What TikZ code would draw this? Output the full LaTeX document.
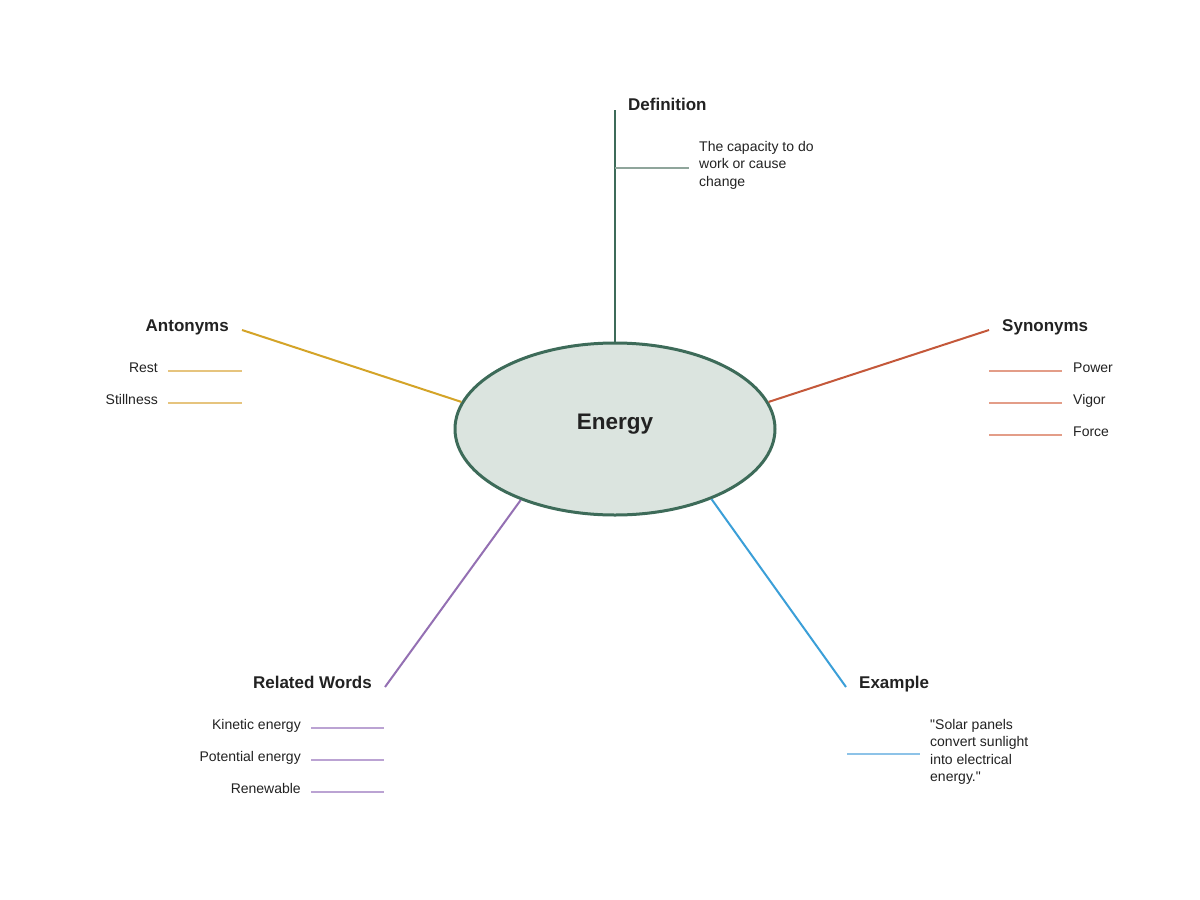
\documentclass[tikz,border=0pt]{standalone}
\usepackage{fontspec}
\setmainfont{Liberation Sans}
\newfontfamily\plainq{Liberation Sans}
\usetikzlibrary{shapes.geometric}
\definecolor{ink}{HTML}{222222}
\definecolor{defc}{HTML}{3D6B59}
\definecolor{ctrfill}{HTML}{DBE4DF}
\definecolor{defsub}{HTML}{8FA59B}
\definecolor{antc}{HTML}{D4A428}
\definecolor{antsub}{HTML}{E6C47E}
\definecolor{sync}{HTML}{C4583A}
\definecolor{synsub}{HTML}{E39D88}
\definecolor{relc}{HTML}{9470B3}
\definecolor{relsub}{HTML}{BBA3D3}
\definecolor{exc}{HTML}{3B9FD8}
\definecolor{exsub}{HTML}{8DC3E8}
\begin{document}
\begin{tikzpicture}[x=1pt,y=-1pt,
  head/.style={font=\fontsize{17}{20}\selectfont\bfseries, text=ink, inner sep=0},
  item/.style={font=\fontsize{14}{17.5}\selectfont, text=ink, inner sep=0},
  conn/.style={line width=2},
  subline/.style={line width=2}]
\useasboundingbox[fill=white] (0,0) rectangle (1200,900);

\node[ellipse, draw=defc, fill=ctrfill, line width=3, minimum width=320, minimum height=172, inner sep=0, text=ink, font=\fontsize{22.5}{27}\selectfont\bfseries] (center) at (615,429) {\raisebox{0pt}[0pt][0pt]{Energy}};

% Definition
\coordinate (defTop) at (615,110);
\coordinate (defJ) at (615,168);
\coordinate (defE) at (689,168);
\draw[conn, defc] (defTop) -- (center.north);
\draw[subline, defsub] (defJ) -- (defE);
\node[head, anchor=base west] (defL) at (628,110) {Definition};
\node[item, anchor=west, align=left] (defT) at (699,165) {The capacity to do\\work or cause\\change};

% Antonyms
\coordinate (antA) at (242,330);
\draw[conn, antc] (antA) -- (center.170);
\node[head, anchor=base east] (antL) at (229,331) {Antonyms};
\coordinate (ant1a) at (168,371); \coordinate (ant1b) at (242,371);
\coordinate (ant2a) at (168,403); \coordinate (ant2b) at (242,403);
\draw[subline, antsub] (ant1a) -- (ant1b);
\draw[subline, antsub] (ant2a) -- (ant2b);
\node[item, anchor=base east] (ant1) at (158,372) {Rest};
\node[item, anchor=base east] (ant2) at (158,404) {Stillness};

% Synonyms
\coordinate (synA) at (989,330);
\draw[conn, sync] (synA) -- (center.10);
\node[head, anchor=base west] (synL) at (1002,331) {Synonyms};
\coordinate (syn1a) at (989,371); \coordinate (syn1b) at (1062,371);
\coordinate (syn2a) at (989,403); \coordinate (syn2b) at (1062,403);
\coordinate (syn3a) at (989,435); \coordinate (syn3b) at (1062,435);
\draw[subline, synsub] (syn1a) -- (syn1b);
\draw[subline, synsub] (syn2a) -- (syn2b);
\draw[subline, synsub] (syn3a) -- (syn3b);
\node[item, anchor=base west] (syn1) at (1073,372) {Power};
\node[item, anchor=base west] (syn2) at (1073,404) {Vigor};
\node[item, anchor=base west] (syn3) at (1073,436) {Force};

% Related Words
\coordinate (relA) at (385,687);
\draw[conn, relc] (relA) -- (center.217);
\node[head, anchor=base east] (relL) at (372,688) {Related Words};
\coordinate (rel1a) at (311,728); \coordinate (rel1b) at (384,728);
\coordinate (rel2a) at (311,760); \coordinate (rel2b) at (384,760);
\coordinate (rel3a) at (311,792); \coordinate (rel3b) at (384,792);
\draw[subline, relsub] (rel1a) -- (rel1b);
\draw[subline, relsub] (rel2a) -- (rel2b);
\draw[subline, relsub] (rel3a) -- (rel3b);
\node[item, anchor=base east] (rel1) at (301,729) {Kinetic energy};
\node[item, anchor=base east] (rel2) at (301,761) {Potential energy};
\node[item, anchor=base east] (rel3) at (301,793) {Renewable};

% Example
\coordinate (exA) at (846,687);
\draw[conn, exc] (exA) -- (center.324);
\node[head, anchor=base west] (exL) at (859,688) {Example};
\coordinate (ex1a) at (847,754); \coordinate (ex1b) at (920,754);
\draw[subline, exsub] (ex1a) -- (ex1b);
\node[item, anchor=west, align=left, font=\plainq\fontsize{14}{17.5}\selectfont] (exT) at (930,752) {"Solar panels\\convert sunlight\\into electrical\\energy."};
\end{tikzpicture}
\end{document}
